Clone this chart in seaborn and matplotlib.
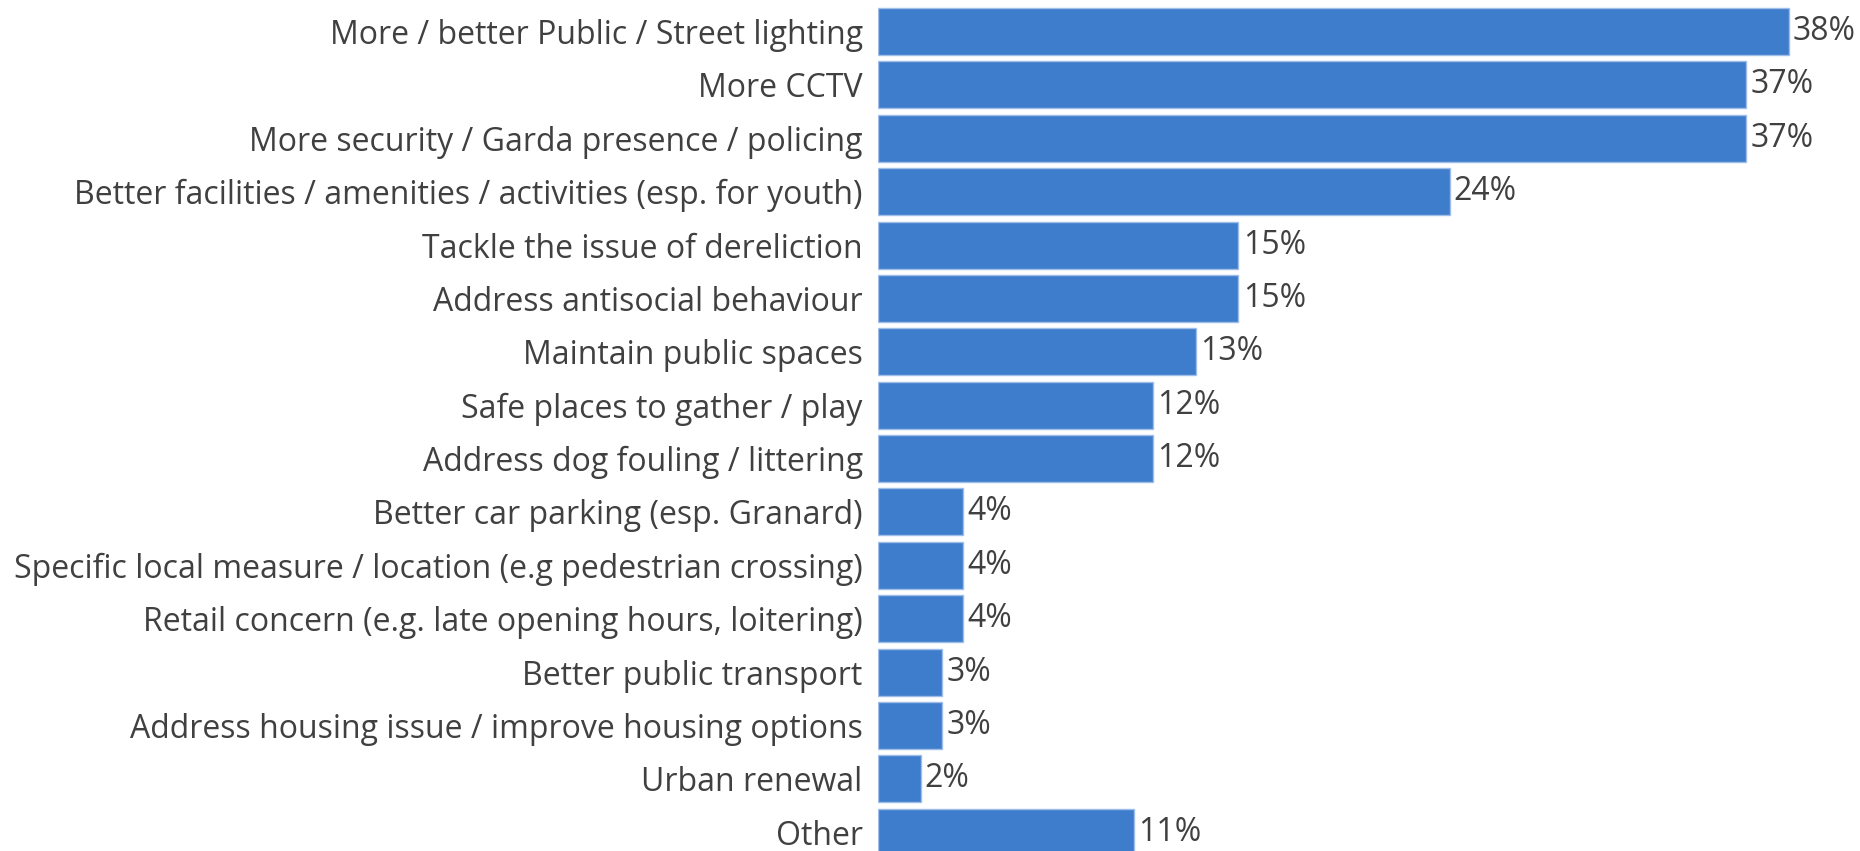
import pandas as pd
import matplotlib.pyplot as plt
import seaborn as sns

# categories and values (percent)
categories = [
    'More / better Public / Street lighting',
    'More CCTV',
    'More security / Garda presence / policing',
    'Better facilities / amenities / activities (esp. for youth)',
    'Tackle the issue of dereliction',
    'Address antisocial behaviour',
    'Maintain public spaces',
    'Safe places to gather / play',
    'Address dog fouling / littering',
    'Better car parking (esp. Granard)',
    'Specific local measure / location (e.g pedestrian crossing)',
    'Retail concern (e.g. late opening hours, loitering)',
    'Better public transport',
    'Address housing issue / improve housing options',
    'Urban renewal',
    'Other',
]
values = [38.4, 36.6, 36.6, 24.1, 15.2, 15.2, 13.4, 11.6, 11.6,
          3.6, 3.6, 3.6, 2.7, 2.7, 1.8, 10.8]

df = pd.DataFrame({'category': categories, 'value': values})

sns.set_style('white')
plt.rcParams['font.family'] = ['Open Sans', 'DejaVu Sans']

fig = plt.figure(figsize=(18.6, 8.51), dpi=100)
ax = fig.add_axes([0.472, 0.0, 0.528, 1.0])

sns.barplot(data=df, x='value', y='category', color='#3d7dcb', saturation=1,
            width=0.88, edgecolor='#9fbde8', linewidth=1, ax=ax)

# value labels
ax.bar_label(ax.containers[0], labels=[f'{v:.0f}%' for v in values],
             padding=3, fontsize=23, color='#404040')

ax.set_xlim(0, 41.4)
ax.set_ylim(15.35, -0.59)
ax.set_xlabel('')
ax.set_ylabel('')
ax.set_xticks([])
ax.tick_params(axis='y', length=0, pad=11, labelsize=23, labelcolor='#404040')
sns.despine(ax=ax, left=True, bottom=True)

fig.savefig('out.png', dpi=100)
